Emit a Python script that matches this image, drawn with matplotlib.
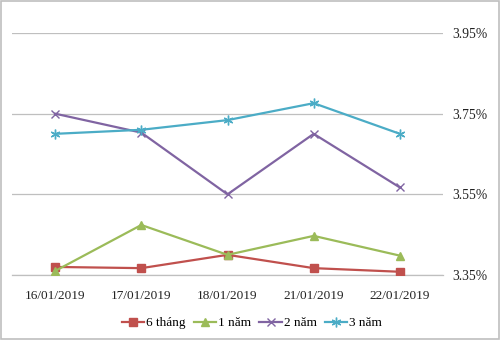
import matplotlib
matplotlib.use("Agg")
import matplotlib.pyplot as plt
from matplotlib.patches import Rectangle
from matplotlib.ticker import FuncFormatter

dates = ["16/01/2019", "17/01/2019", "18/01/2019", "21/01/2019", "22/01/2019"]
s6m = [3.37, 3.367, 3.40, 3.367, 3.358]
s1y = [3.36, 3.474, 3.40, 3.447, 3.398]
s2y = [3.75, 3.703, 3.55, 3.70, 3.567]
s3y = [3.70, 3.71, 3.734, 3.776, 3.70]
labels = ["6 tháng", "1 năm", "2 năm", "3 năm"]
yticks = [3.35, 3.55, 3.75, 3.95]

plt.rcParams['font.family'] = ['Liberation Serif', 'DejaVu Serif']

fig = plt.figure(figsize=(5.0, 3.4), dpi=100)
ax = fig.add_axes([12/500, 1 - 275/340, (443-12)/500, (275-33)/340])

x = list(range(len(dates)))
lw = 1.6
ax.plot(x, s6m, color='#C0504D', lw=lw, marker='s', ms=5.5, label=labels[0], zorder=3)
ax.plot(x, s1y, color='#9BBB59', lw=lw, marker='^', ms=6, label=labels[1], zorder=3)
ax.plot(x, s2y, color='#8064A2', lw=lw, marker='x', ms=6, mew=1.0, label=labels[2], zorder=3)
ax.plot(x, s3y, color='#4BACC6', lw=lw, marker=(6, 2, 0), ms=7, mew=1.0, label=labels[3], zorder=3)

ax.set_xlim(-0.5, 4.5)
ax.set_ylim(3.35, 3.95)
ax.set_xticks(x)
ax.set_xticklabels(dates, fontsize=9.5, color='#222222')
ax.set_yticks(yticks)
ax.yaxis.set_major_formatter(FuncFormatter(lambda v, p: f"{v:.2f}%"))
ax.yaxis.tick_right()
ax.tick_params(axis='y', length=0, pad=7, labelsize=9.8, labelcolor='#222222')
ax.tick_params(axis='x', length=0, pad=11)
ax.grid(axis='y', color='#BFBFBF', lw=0.9)
for s in ['top', 'left', 'right']:
    ax.spines[s].set_visible(False)
ax.spines['bottom'].set_color('#BFBFBF')
ax.spines['bottom'].set_linewidth(0.9)
ax.set_axisbelow(True)

leg = fig.legend(loc='center', bbox_to_anchor=(252/500, 1 - 323/340), ncol=4, frameon=False,
                 fontsize=9.5, handlelength=1.7, columnspacing=0.6, handletextpad=0.15)

fig.add_artist(Rectangle((0.002, 0.003), 0.995, 0.993, transform=fig.transFigure,
                         fill=False, edgecolor='#BFBFBF', lw=1.2))
fig.savefig("out.png", dpi=100)
